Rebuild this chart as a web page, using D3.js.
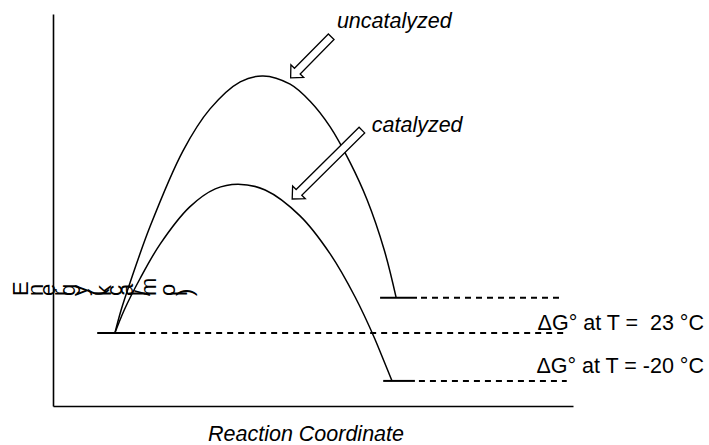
<!DOCTYPE html>
<html>
<head>
<meta charset="utf-8">
<script src="https://cdn.jsdelivr.net/npm/d3@7"></script>
<style>
  body { margin: 0; background: #fff; }
  text { font-family: "Liberation Sans", Arial, Helvetica, sans-serif; fill: #000; }
</style>
</head>
<body>
<div id="chart"></div>
<script>
// reaction coordinate (0-100) vs energy (arbitrary kcal/mol units, 0-100)
const uncatX = [11.9, 13.1, 14.8, 18.7, 25.0, 30.2, 36.0, 40.4, 45.6, 49.4, 53.3, 57.1, 60.4, 63.7, 66.0];
const uncatY = [18.6, 24.5, 31.4, 45.9, 65.1, 75.8, 82.7, 84.2, 82.1, 77.8, 71.2, 62.2, 52.6, 39.8, 27.6];
const catX = [11.9, 13.7, 16.7, 20.6, 26.3, 31.2, 35.6, 40.8, 47.5, 53.3, 58.1, 61.9, 65.2];
const catY = [18.6, 24.5, 32.4, 41.3, 50.8, 55.4, 56.6, 55.1, 48.5, 38.8, 27.8, 17.1, 6.4];

// energy levels
const levelNames = ["reactant", "product23", "productMinus20"];
const levelStart = [8.5, 62.9, 63.5];
const levelSolidEnd = [15.8, 70.0, 69.6];
const levelDashEnd = [98.5, 98.1, 98.8];
const levelEnergy = [18.6, 27.6, 6.4];

const levelLabels = ["ΔG° at T =  23 °C", "ΔG° at T = -20 °C"];
const levelLabelEnergy = [19.4, 8.4];

// annotation arrows: tail -> tip
const arrowNames = ["uncatalyzed", "catalyzed"];
const arrowTail = [[53.5, 94.2], [59.4, 70.4]];
const arrowTip = [[45.7, 83.7], [46.0, 52.8]];
const arrowLabelPos = [[54.6, 96.4], [61.3, 69.9]];

const width = 709, height = 445;
const svg = d3.select("#chart").append("svg")
    .attr("width", width)
    .attr("height", height);

const x = d3.scaleLinear().domain([0, 100]).range([53, 573]);
const y = d3.scaleLinear().domain([0, 100]).range([406, 14]);

// axes (plain lines, no ticks)
const xAxis = d3.axisBottom(x).tickValues([]).tickSizeOuter(0);
const yAxis = d3.axisLeft(y).tickValues([]).tickSizeOuter(0);
svg.append("g").attr("transform", `translate(0,${y(0)})`).call(xAxis)
    .select(".domain").attr("stroke-width", 1.6);
svg.append("g").attr("transform", `translate(${x(0)},0)`).call(yAxis)
    .select(".domain").attr("stroke-width", 1.6);

// curves
const line = d3.line()
    .x(d => x(d[0]))
    .y(d => y(d[1]))
    .curve(d3.curveCatmullRom.alpha(0.5));

svg.append("path")
    .datum(d3.zip(uncatX, uncatY))
    .attr("fill", "none").attr("stroke", "#000").attr("stroke-width", 1.5)
    .attr("d", line);
svg.append("path")
    .datum(d3.zip(catX, catY))
    .attr("fill", "none").attr("stroke", "#000").attr("stroke-width", 1.5)
    .attr("d", line);

// energy levels
const levels = levelNames.map((n, i) => ({
    name: n, x0: levelStart[i], x1: levelSolidEnd[i], x2: levelDashEnd[i], e: levelEnergy[i]
}));
svg.selectAll(".level-solid").data(levels).join("line")
    .attr("class", "level-solid")
    .attr("x1", d => x(d.x0)).attr("x2", d => x(d.x1))
    .attr("y1", d => y(d.e)).attr("y2", d => y(d.e))
    .attr("stroke", "#000").attr("stroke-width", 2);
svg.selectAll(".level-dash").data(levels).join("line")
    .attr("class", "level-dash")
    .attr("x1", d => x(d.x1) + 4).attr("x2", d => x(d.x2))
    .attr("y1", d => y(d.e)).attr("y2", d => y(d.e))
    .attr("stroke", "#000").attr("stroke-width", 2)
    .attr("stroke-dasharray", "6,5");

svg.selectAll(".level-label").data(levelLabels).join("text")
    .attr("class", "level-label")
    .attr("x", 704)
    .attr("y", (d, i) => y(levelLabelEnergy[i]))
    .attr("text-anchor", "end")
    .attr("font-size", 21.5)
    .style("white-space", "pre")
    .text(d => d);

// hollow block arrows
function arrowPath(t, h) {
    const x0 = x(t[0]), y0 = y(t[1]), x1 = x(h[0]), y1 = y(h[1]);
    const len = Math.hypot(x1 - x0, y1 - y0);
    const ux = (x1 - x0) / len, uy = (y1 - y0) / len;
    const px = -uy, py = ux;
    const sw = 4, hw = 9, hl = 9.5;
    const bx = x1 - ux * hl, by = y1 - uy * hl;
    const pts = [
        [x0 + px * sw, y0 + py * sw],
        [bx + px * sw, by + py * sw],
        [bx + px * hw, by + py * hw],
        [x1, y1],
        [bx - px * hw, by - py * hw],
        [bx - px * sw, by - py * sw],
        [x0 - px * sw, y0 - py * sw]
    ];
    return "M" + pts.map(p => p.join(",")).join("L") + "Z";
}
svg.selectAll(".arrow").data(arrowNames).join("path")
    .attr("class", "arrow")
    .attr("d", (d, i) => arrowPath(arrowTail[i], arrowTip[i]))
    .attr("fill", "#fff").attr("stroke", "#000").attr("stroke-width", 1.3);

svg.selectAll(".arrow-label").data(arrowNames).join("text")
    .attr("class", "arrow-label")
    .attr("x", (d, i) => x(arrowLabelPos[i][0]))
    .attr("y", (d, i) => y(arrowLabelPos[i][1]))
    .attr("font-size", 21.5)
    .attr("font-style", "italic")
    .text(d => d);

// axis titles
svg.append("text")
    .attr("x", 306).attr("y", 441)
    .attr("text-anchor", "middle")
    .attr("font-size", 21.5)
    .attr("font-style", "italic")
    .text("Reaction Coordinate");

// y title: each glyph turned on its own and laid side by side, as in the source
const yTitle = "Energy (kcal/mol)";
const yTitleSize = 22;
const probe = svg.append("text").attr("font-size", yTitleSize).style("white-space", "pre");
const glyphs = [];
let cx = 28;
for (const ch of yTitle) {
    probe.text(ch);
    const w = probe.node().getComputedTextLength();
    glyphs.push({ch, x: cx});
    cx += w;
}
probe.remove();
svg.append("g").selectAll("text").data(glyphs).join("text")
    .attr("font-size", yTitleSize)
    .style("white-space", "pre")
    .attr("transform", d => `translate(${d.x},296) rotate(-90)`)
    .text(d => d.ch);
</script>
</body>
</html>
